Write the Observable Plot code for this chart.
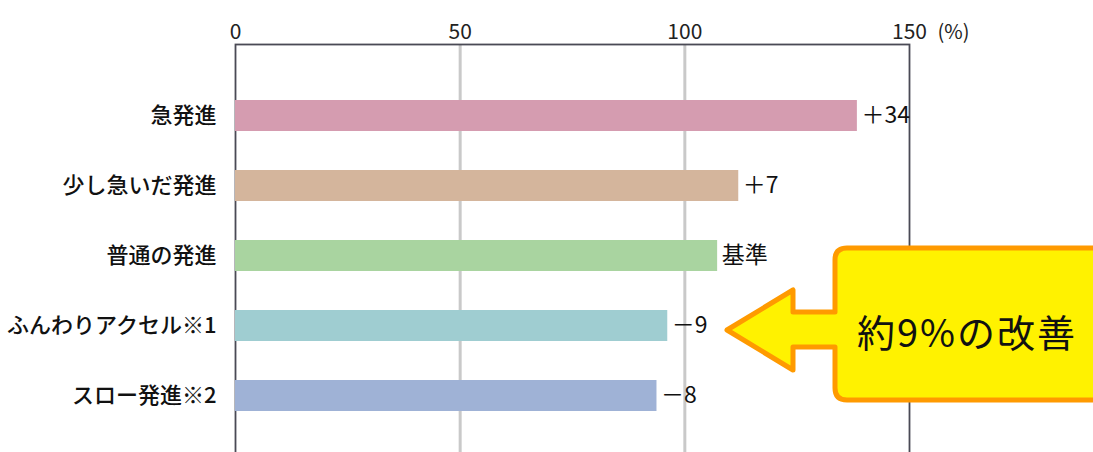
<!DOCTYPE html>
<html>
<head>
<meta charset="utf-8">
<script src="https://cdn.jsdelivr.net/npm/d3@7"></script>
<script src="https://cdn.jsdelivr.net/npm/@observablehq/plot@0.6"></script>
<style>
  html, body { margin: 0; padding: 0; background: #fff; }
  #chart { width: 1093px; height: 452px; overflow: hidden; }
</style>
</head>
<body>
<div id="chart"></div>
<script>
const categories = ["急発進", "少し急いだ発進", "普通の発進", "ふんわりアクセル※1", "スロー発進※2"];
const values = [138.4, 112, 107.3, 96.2, 93.8];
const notes = ["＋34", "＋7", "基準", "－9", "－8"];
const colors = ["#d59cb0", "#d4b59c", "#a9d4a0", "#9fcdd1", "#9fb2d6"];
const xTicks = [0, 50, 100, 150];
const unitLabel = "(%)";
const calloutText = "約9%の改善";

const data = categories.map((c, i) => ({label: c, value: values[i], note: notes[i], color: colors[i]}));
const FONT = "'Noto Sans CJK JP', 'Noto Sans', sans-serif";

const chart = Plot.plot({
  width: 1093,
  height: 452,
  marginTop: 44,
  marginLeft: 235,
  marginRight: 184,
  marginBottom: -3,
  style: {fontFamily: FONT, color: "#111", background: "#fff"},
  x: {domain: [0, 150], label: null},
  y: {domain: categories, insetTop: 35, insetBottom: 24, paddingInner: 0.56, paddingOuter: 0.28, label: null},
  color: {type: "identity"},
  marks: [
    Plot.ruleX([50, 100], {stroke: "#c9c9c9", strokeWidth: 3}),
    Plot.frame({stroke: "#4a4a55", strokeWidth: 1.8}),
    Plot.barX(data, {x: "value", y: "label", fill: "color"}),
    Plot.text(data, {x: "value", y: "label", text: "note", textAnchor: "start", dx: 4, fontSize: 23, fill: "#111"}),
    Plot.axisX({anchor: "top", ticks: xTicks, tickSize: 0, tickPadding: 6, fontSize: 21, tickFormat: d => String(d), fill: "#222", label: null}),
    Plot.text([unitLabel], {x: () => 150, frameAnchor: "top", lineAnchor: "bottom", textAnchor: "start", dx: 28, dy: -6, fontSize: 20, fill: "#222"}),
    Plot.axisY({tickSize: 0, tickPadding: 19, fontSize: 22, fill: "#111", fontWeight: 500, label: null})
  ]
});

// Callout annotation
const svg = d3.select(chart);
const r = 12;
const bx = 835, by = 248, bb = 400, br = 1110;
const path = [
  `M${bx + r},${by}`, `L${br},${by}`, `L${br},${bb}`, `L${bx + r},${bb}`,
  `Q${bx},${bb} ${bx},${bb - r}`,
  `L${bx},347`, `L793,347`, `L793,370`, `L727,330`, `L793,290`, `L793,312`, `L${bx},312`,
  `L${bx},${by + r}`, `Q${bx},${by} ${bx + r},${by}`, "Z"
].join(" ");
svg.append("path")
  .attr("d", path)
  .attr("fill", "#fff200")
  .attr("stroke", "#ff9a00")
  .attr("stroke-width", 5)
  .attr("stroke-linejoin", "round");
svg.append("text")
  .attr("x", 967).attr("y", 330)
  .attr("text-anchor", "middle")
  .attr("dominant-baseline", "central")
  .attr("font-family", FONT)
  .attr("font-size", 38)
  .attr("letter-spacing", 2)
  .attr("fill", "#111")
  .text(calloutText);

document.getElementById("chart").appendChild(chart);
</script>
</body>
</html>
